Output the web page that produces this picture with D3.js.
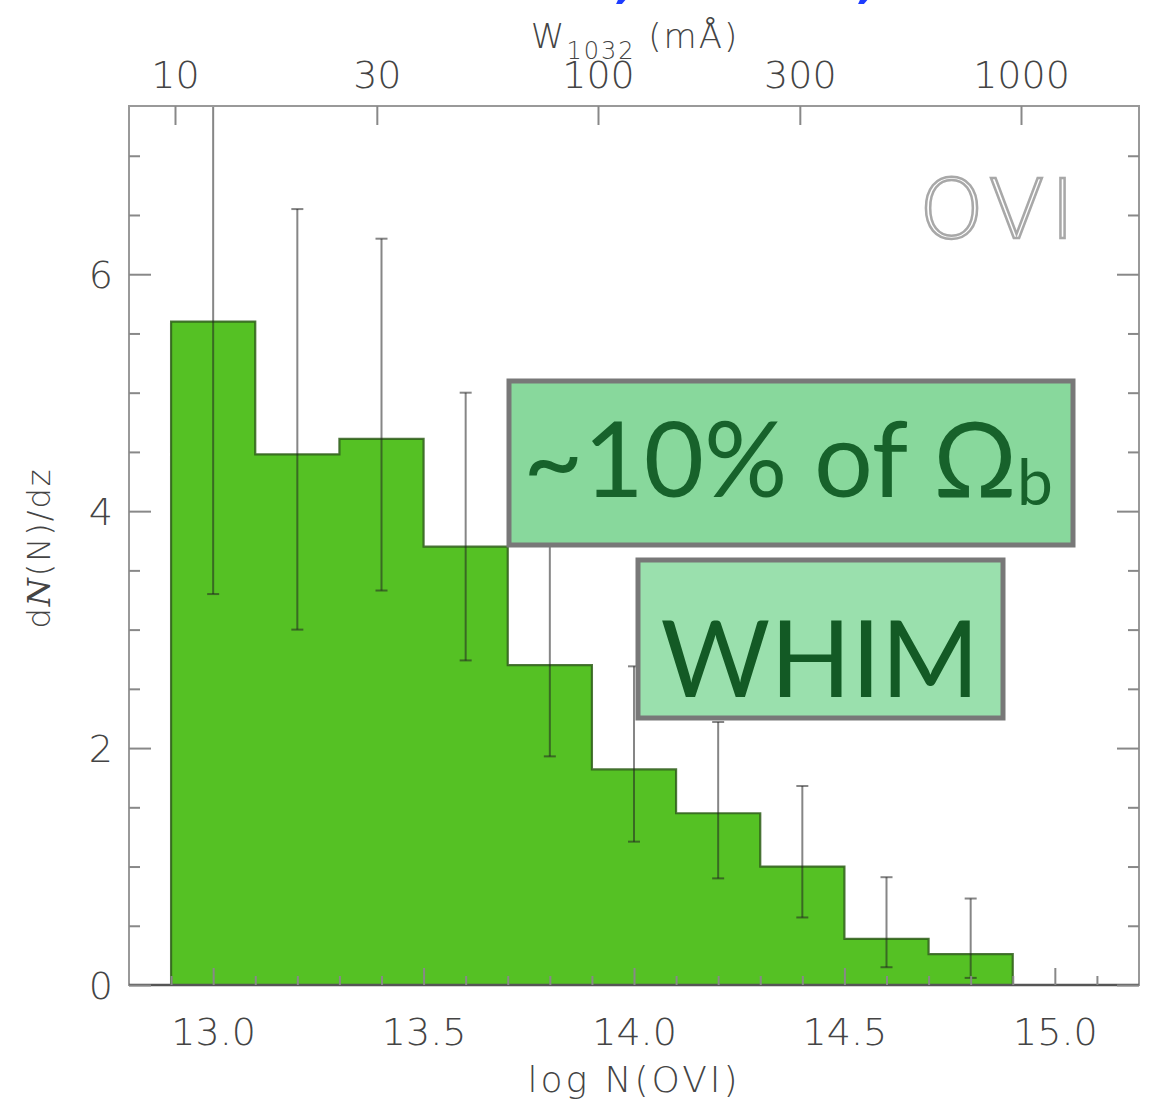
<!DOCTYPE html>
<html>
<head>
<meta charset="utf-8">
<script src="https://cdn.jsdelivr.net/npm/d3@7"></script>
<style>
  html, body { margin: 0; padding: 0; background: #fff; }
  svg { display: block; }
  .tick-label { font-family: "DejaVu Sans", sans-serif; font-weight: 300; fill: #444; }
</style>
</head>
<body>
<svg id="chart" width="1159" height="1109"></svg>
<script>
// OVI column-density distribution: dN/dz per 0.2 dex bin of log N(OVI)
const binEdges = [12.9, 13.1, 13.3, 13.5, 13.7, 13.9, 14.1, 14.3, 14.5, 14.7, 14.9];
const dNdz     = [5.60, 4.48, 4.61, 3.70, 2.70, 1.82, 1.45, 1.00, 0.39, 0.26];

// 1-sigma ranges at the bin centres
const errCentre = [13.0, 13.2, 13.4, 13.6, 13.8, 14.0, 14.2, 14.4, 14.6, 14.8];
const errLow    = [3.30, 3.00, 3.33, 2.74, 1.93, 1.21, 0.90, 0.57, 0.15, 0.06];
const errHigh   = [8.50, 6.55, 6.30, 5.00, 3.75, 2.69, 2.22, 1.68, 0.91, 0.73];

// axis ticks
const xMajorTicks = [13.0, 13.5, 14.0, 14.5, 15.0];
const xMinorTicks = [12.9, 13.1, 13.2, 13.3, 13.4, 13.6, 13.7, 13.8, 13.9, 14.1, 14.2, 14.3, 14.4,
                     14.6, 14.7, 14.8, 14.9, 15.1];
const yMajorTicks = [0, 2, 4, 6];
const yMinorTicks = [0.5, 1, 1.5, 2.5, 3, 3.5, 4.5, 5, 5.5, 6.5, 7];
const wTicks = [10, 30, 100, 300, 1000];

const svg = d3.select("#chart");

const x = d3.scaleLinear().domain([12.8, 15.2]).range([129, 1139]);
const y = d3.scaleLinear().domain([0, 7.42]).range([985, 106]);
const w = d3.scaleLog().domain([10, 1000]).range([175, 1021]);

const plotL = x.range()[0], plotR = x.range()[1];
const plotT = y.range()[1], plotB = y.range()[0];

svg.append("clipPath").attr("id", "plotClip")
  .append("rect").attr("x", plotL).attr("y", plotT)
  .attr("width", plotR - plotL).attr("height", plotB - plotT);

// histogram as a filled step outline
const step = d3.path();
step.moveTo(x(binEdges[0]), y(0));
dNdz.forEach((v, i) => {
  step.lineTo(x(binEdges[i]), y(v));
  step.lineTo(x(binEdges[i + 1]), y(v));
});
step.lineTo(x(binEdges[binEdges.length - 1]), y(0));
step.closePath();

svg.append("path")
  .attr("d", step.toString())
  .attr("fill", "#55c124")
  .attr("stroke", "#2f5e1a")
  .attr("stroke-opacity", 0.85)
  .attr("stroke-width", 2.2)
  .attr("stroke-linejoin", "miter");

// error bars
const eb = svg.append("g").attr("clip-path", "url(#plotClip)")
  .attr("stroke", "#222").attr("stroke-opacity", 0.55).attr("stroke-width", 2);
errCentre.forEach((c, i) => {
  const cx = x(c);
  eb.append("line").attr("x1", cx).attr("x2", cx).attr("y1", y(errLow[i])).attr("y2", y(errHigh[i]));
  eb.append("line").attr("x1", cx - 6).attr("x2", cx + 6).attr("y1", y(errLow[i])).attr("y2", y(errLow[i]));
  eb.append("line").attr("x1", cx - 6).attr("x2", cx + 6).attr("y1", y(errHigh[i])).attr("y2", y(errHigh[i]));
});

// frame
svg.append("rect").attr("x", plotL).attr("y", plotT)
  .attr("width", plotR - plotL).attr("height", plotB - plotT)
  .attr("fill", "none").attr("stroke", "#999").attr("stroke-width", 2);
svg.append("line").attr("x1", plotL).attr("x2", plotR).attr("y1", plotB).attr("y2", plotB)
  .attr("stroke", "#555").attr("stroke-width", 2.5);

function styleAxis(g) {
  g.select(".domain").remove();
  g.selectAll(".tick line").attr("stroke", "#888").attr("stroke-width", 2);
  g.selectAll("text").attr("class", "tick-label");
}

// bottom axis: log N(OVI)
svg.append("g").attr("transform", `translate(0,${plotB})`)
  .call(d3.axisBottom(x).tickValues(xMajorTicks).tickSize(-17).tickPadding(34)
        .tickFormat(d3.format(".1f")))
  .call(styleAxis)
  .call(g => g.selectAll("text").attr("font-size", 38).attr("dy", "0.71em").attr("y", 33));
svg.append("g").attr("transform", `translate(0,${plotB})`)
  .call(d3.axisBottom(x).tickValues(xMinorTicks).tickSize(-9).tickFormat(""))
  .call(styleAxis);

// top axis: equivalent width
svg.append("g").attr("transform", `translate(0,${plotT})`)
  .call(d3.axisTop(w).tickValues(wTicks).tickSize(-19).tickFormat(d3.format("d")))
  .call(styleAxis)
  .call(g => g.selectAll("text").attr("font-size", 38).attr("y", -18).attr("dy", 0));

// left axis
svg.append("g").attr("transform", `translate(${plotL},0)`)
  .call(d3.axisLeft(y).tickValues(yMajorTicks).tickSize(-22).tickFormat(d3.format("d")))
  .call(styleAxis)
  .call(g => g.selectAll("text").attr("font-size", 38).attr("x", -16).attr("dy", "0.36em"));
svg.append("g").attr("transform", `translate(${plotL},0)`)
  .call(d3.axisLeft(y).tickValues(yMinorTicks).tickSize(-11).tickFormat(""))
  .call(styleAxis);

// right axis
svg.append("g").attr("transform", `translate(${plotR},0)`)
  .call(d3.axisRight(y).tickValues(yMajorTicks).tickSize(-22).tickFormat(""))
  .call(styleAxis);
svg.append("g").attr("transform", `translate(${plotR},0)`)
  .call(d3.axisRight(y).tickValues(yMinorTicks).tickSize(-11).tickFormat(""))
  .call(styleAxis);

// axis titles
svg.append("text").attr("class", "tick-label")
  .attr("x", 634).attr("y", 1092).attr("text-anchor", "middle")
  .attr("font-size", 36).attr("letter-spacing", 3)
  .text("log N(OVI)");

const wt = svg.append("text").attr("class", "tick-label")
  .attr("x", 635).attr("y", 48).attr("text-anchor", "middle")
  .attr("font-size", 34).attr("letter-spacing", 2);
wt.append("tspan").text("W");
wt.append("tspan").attr("font-size", 24).attr("dy", 11).text("1032");
wt.append("tspan").attr("dy", -11).text(" (mÅ)");

const yl = svg.append("text").attr("class", "tick-label")
  .attr("transform", "translate(50,548) rotate(-90)")
  .attr("text-anchor", "middle").attr("font-size", 32).attr("letter-spacing", 2);
yl.append("tspan").text("d");
yl.append("tspan").attr("font-family", "DejaVu Serif").attr("font-style", "italic")
  .attr("font-weight", 300).text("N");
yl.append("tspan").text("(N)/dz");

// species label
svg.append("text")
  .attr("x", 1000).attr("y", 238).attr("text-anchor", "middle")
  .attr("font-family", "DejaVu Sans").attr("font-weight", 200)
  .attr("font-size", 82).attr("letter-spacing", 6)
  .attr("fill", "#fff").attr("stroke", "#a8a8a8").attr("stroke-width", 2.5)
  .text("OVI");

// annotation boxes
function noteBox(bx, by, bw, bh, fill) {
  svg.append("rect").attr("x", bx).attr("y", by).attr("width", bw).attr("height", bh)
    .attr("fill", fill).attr("stroke", "#787878").attr("stroke-width", 5);
}
noteBox(509, 381, 564, 164, "#88d89c");
noteBox(638, 560, 365, 158, "#9ae0ad");

const t1 = svg.append("text")
  .attr("x", 788).attr("y", 497).attr("text-anchor", "middle")
  .attr("font-family", "Lato, sans-serif").attr("font-size", 104).attr("fill", "#17622b");
t1.append("tspan").text("~10% of Ω");
t1.append("tspan").attr("font-size", 64).attr("dy", 8).text("b");

svg.append("text")
  .attr("x", 820).attr("y", 697).attr("text-anchor", "middle")
  .attr("font-family", "Lato, sans-serif").attr("font-size", 106).attr("fill", "#135a25")
  .text("WHIM");

// fragments of the slide heading above the plot
svg.append("g").attr("fill", "#1d3cff").attr("font-family", "DejaVu Sans")
  .attr("font-weight", "bold").attr("font-style", "italic").attr("font-size", 56)
  .selectAll("text").data([618, 860]).join("text")
  .attr("x", d => d).attr("y", -4).text(",");
</script>
</body>
</html>
